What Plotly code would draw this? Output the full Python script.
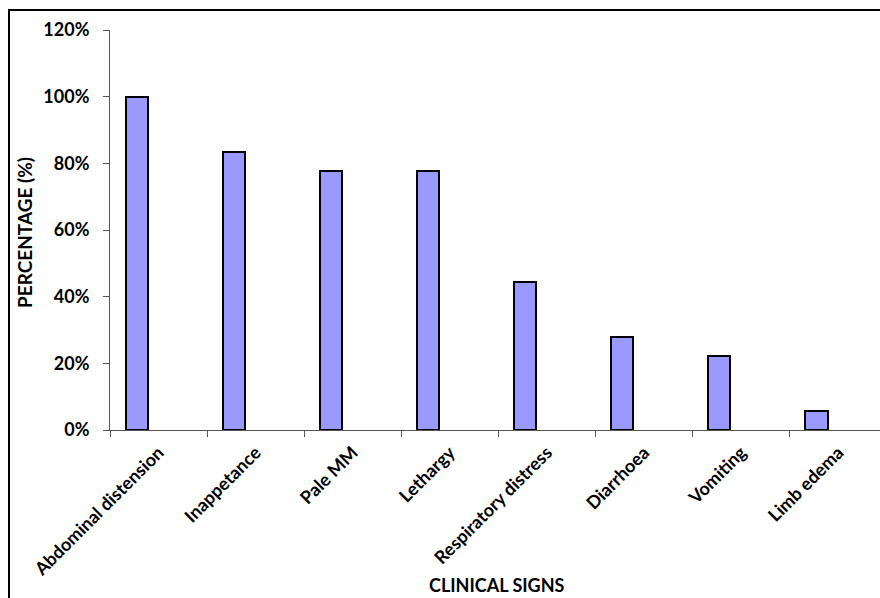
import plotly.graph_objects as go

# Clinical signs and the share of cases showing each one
signs = [
    "Abdominal distension",
    "Inappetance",
    "Pale MM",
    "Lethargy",
    "Respiratory distress",
    "Diarrhoea",
    "Vomiting",
    "Limb edema",
]
share = [1.000, 0.833, 0.778, 0.778, 0.444, 0.278, 0.222, 0.056]

y_ticks = [0, 0.2, 0.4, 0.6, 0.8, 1.0, 1.2]

FONT = "Lato"

fig = go.Figure(
    go.Bar(
        x=signs,
        y=share,
        width=0.23,
        offset=-0.34,
        marker=dict(color="#9999FF", line=dict(color="#000000", width=2)),
        hoverinfo="x+y",
    )
)

fig.update_layout(
    width=880,
    height=598,
    margin=dict(l=110, r=0, t=30, b=168),
    paper_bgcolor="white",
    plot_bgcolor="white",
    showlegend=False,
    font=dict(family=FONT, size=15, color="#000000"),
    bargap=0,
)

fig.update_xaxes(
    type="category",
    range=[-0.5, 7.43],
    tickson="boundaries",
    ticks="outside",
    ticklen=6,
    tickcolor="#555555",
    tickangle=-45,
    ticklabelstandoff=4,
    tickfont=dict(family=FONT, size=18, color="#000000", weight="bold"),
    showline=True,
    linecolor="#555555",
    linewidth=1,
    showgrid=False,
    zeroline=False,
)

fig.update_yaxes(
    range=[0, 1.2],
    tickvals=y_ticks,
    tickformat=".0%",
    ticks="outside",
    ticklen=6,
    tickcolor="#555555",
    ticklabelstandoff=10,
    tickfont=dict(family=FONT, size=18, color="#000000", weight="bold"),
    showline=True,
    linecolor="#555555",
    linewidth=1,
    showgrid=False,
    zeroline=False,
)

# Axis titles
fig.add_annotation(
    text="PERCENTAGE (%)",
    xref="paper", yref="paper",
    x=(24 - 110) / 770, y=(430 - 233) / 400,
    textangle=-90, showarrow=False,
    xanchor="center", yanchor="middle",
    font=dict(family=FONT, size=19, color="#000000", weight="bold"),
)
fig.add_annotation(
    text="CLINICAL SIGNS",
    xref="paper", yref="paper",
    x=(497 - 110) / 770, y=(430 - 585) / 400,
    showarrow=False,
    xanchor="center", yanchor="middle",
    font=dict(family=FONT, size=18, color="#000000", weight="bold"),
)

# Chart-area frame
fig.add_shape(
    type="rect",
    xref="paper", yref="paper",
    x0=(9 - 110) / 770, x1=1.05,
    y0=-0.5, y1=(430 - 10) / 400,
    line=dict(color="#000000", width=2),
    fillcolor="rgba(0,0,0,0)",
    layer="below",
)

fig.write_html("out.html")
